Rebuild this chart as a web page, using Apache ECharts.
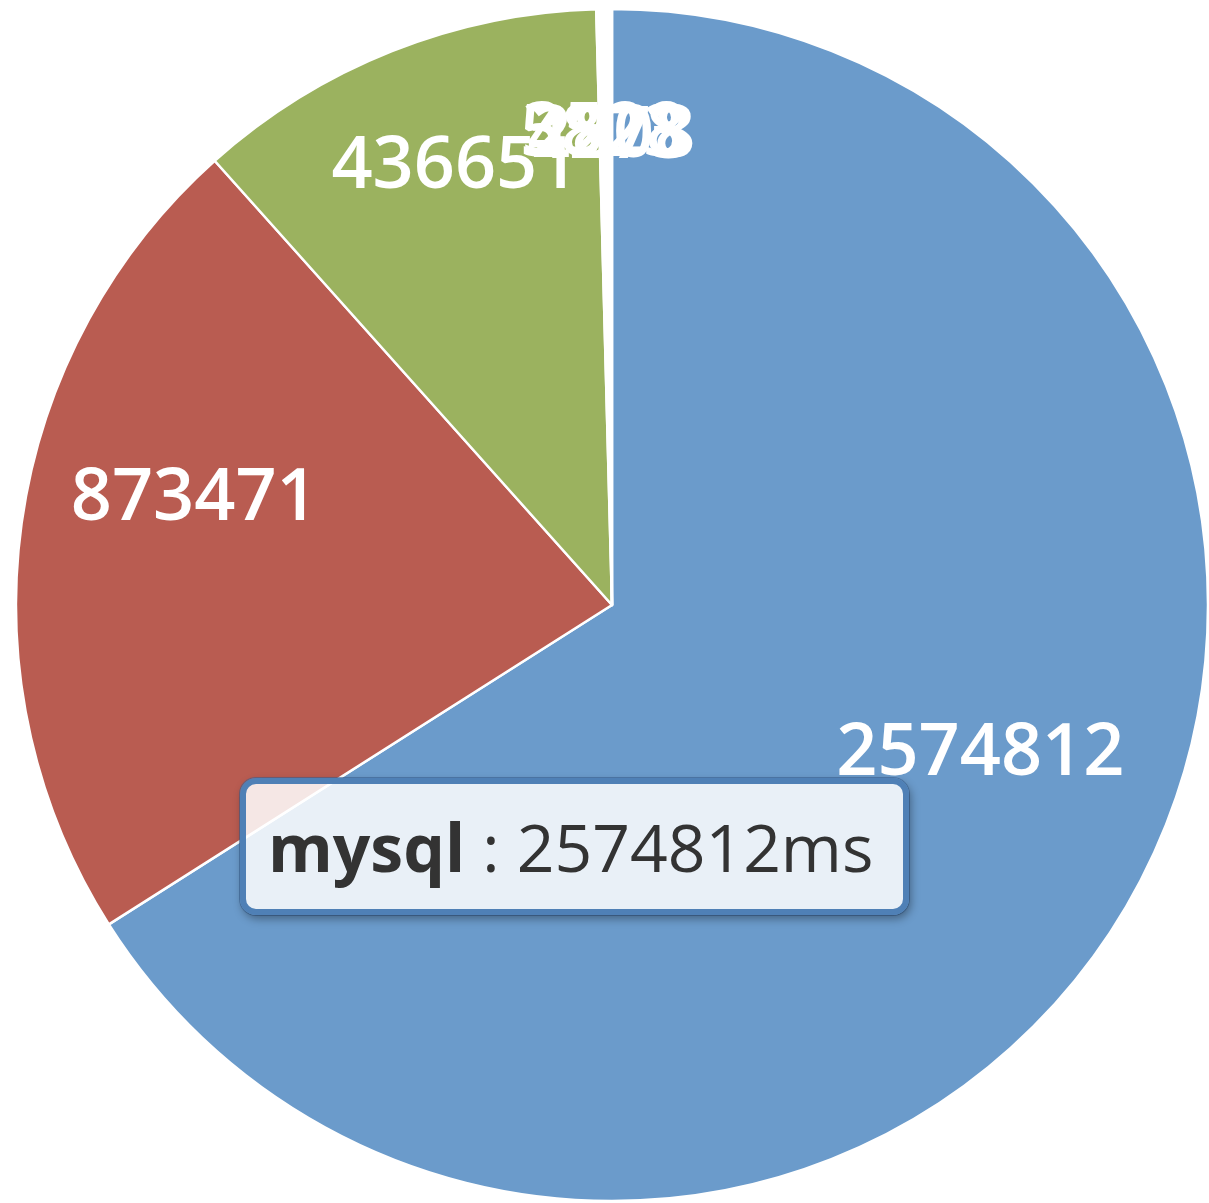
<!DOCTYPE html>
<html>
<head>
<meta charset="utf-8">
<script src="https://cdn.jsdelivr.net/npm/echarts@6/dist/echarts.min.js"></script>
<style>
  html, body { margin: 0; padding: 0; background: #ffffff; }
  #chart { width: 1209px; height: 1203px; }
</style>
</head>
<body>
<div id="chart"></div>
<script>
// Time spent per component (ms)
const names = ['mysql', 'php', 'memcache', 'redis', 'curl', 'file', 'other'];
const values = [2574812, 873471, 436651, 5823, 4273, 3528, 2808];
const colors = ['#6b9bcb', '#b95c51', '#9bb25f', '#ffffff', '#ffffff', '#ffffff', '#ffffff'];
const unit = 'ms';

// per-slice nudges of the value labels inside the pie
const labelShift = [[-26, -67], [28, -44], [9, -19], [0, -20], [4, -18], [-4, -22], [2, -19]];

const data = names.map((n, i) => ({ name: n, value: values[i], itemStyle: { color: colors[i] } }));

const chart = echarts.init(document.getElementById('chart'), null, { renderer: 'canvas' });

const center = [612, 605];
const R = 596;

chart.setOption({
  animation: false,
  backgroundColor: '#ffffff',
  tooltip: {
    trigger: 'item',
    alwaysShowContent: true,
    triggerOn: 'none',
    transitionDuration: 0,
    position: [240, 778],
    backgroundColor: 'rgba(255,255,255,0.85)',
    borderColor: '#4f80b6',
    borderWidth: 6,
    padding: [23, 30, 23, 22],
    textStyle: { fontFamily: 'Open Sans', fontSize: 66, color: '#333333' },
    extraCssText: 'border-radius:16px; box-shadow: 2px 4px 8px rgba(0,0,0,0.35), 0 0 0 1px rgba(60,100,150,0.6); line-height:1.2;',
    formatter: p => '<b>' + p.name + '</b> : ' + p.value + unit
  },
  series: [
    {
      type: 'pie',
      center: center,
      radius: R,
      startAngle: 90,
      clockwise: true,
      avoidLabelOverlap: false,
      data: data,
      itemStyle: { borderColor: '#ffffff', borderWidth: 2.5 },
      label: { show: false },
      labelLine: { show: false },
      emphasis: { scale: false }
    },
    {
      // transparent twin ring that only carries the value labels
      type: 'pie',
      center: center,
      radius: [R * 0.5, R],
      startAngle: 90,
      clockwise: true,
      silent: true,
      avoidLabelOverlap: false,
      tooltip: { show: false },
      data: names.map((n, i) => ({ name: n, value: values[i] })),
      itemStyle: { color: 'rgba(0,0,0,0)', borderWidth: 0 },
      label: {
        show: true,
        position: 'inside',
        formatter: p => String(p.value),
        color: '#ffffff',
        fontFamily: 'Open Sans',
        fontWeight: 600,
        fontSize: 72,
        rotate: 0
      },
      labelLine: { show: false },
      labelLayout: p => ({ dx: labelShift[p.dataIndex][0], dy: labelShift[p.dataIndex][1] })
    }
  ]
});

chart.dispatchAction({ type: 'showTip', seriesIndex: 0, dataIndex: 0 });
</script>
</body>
</html>
